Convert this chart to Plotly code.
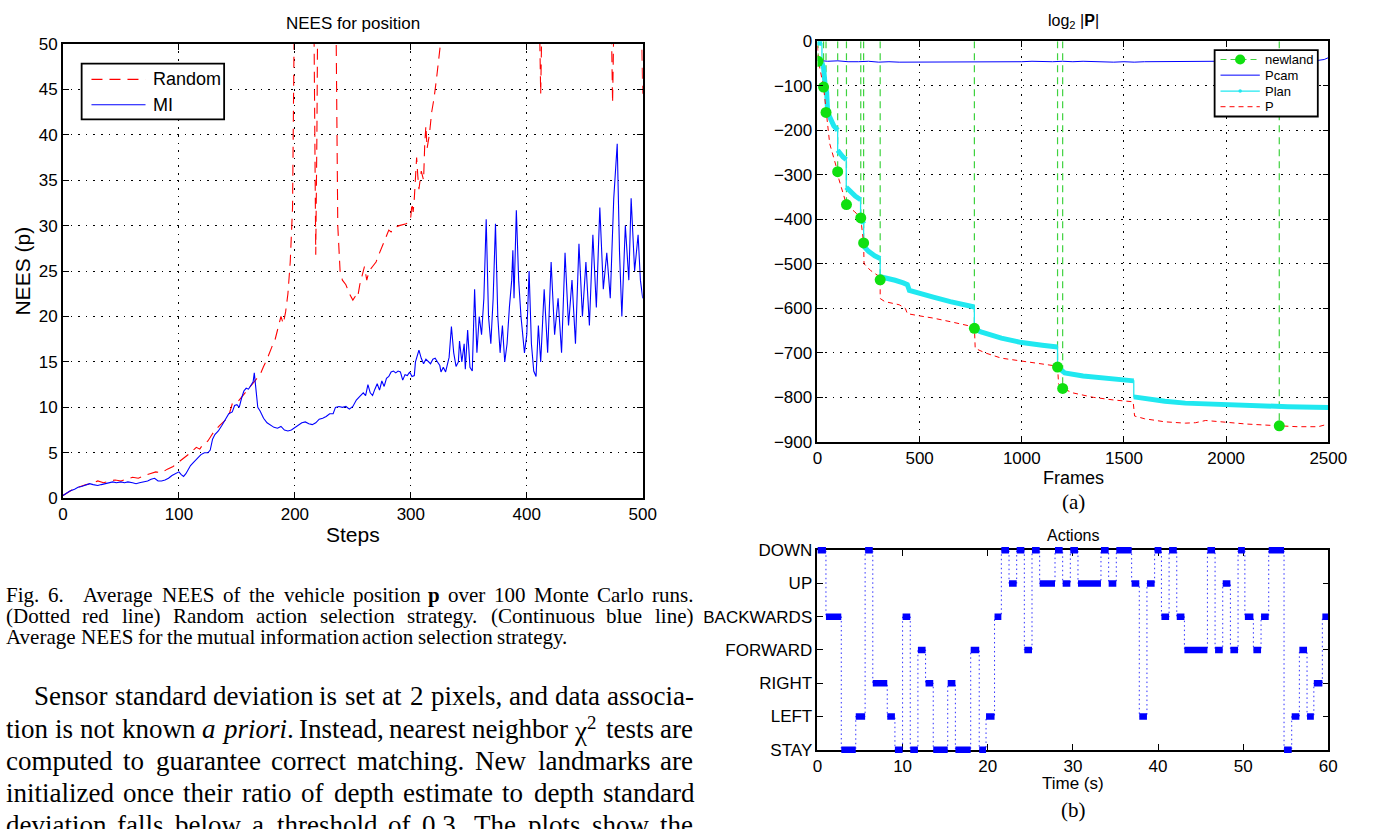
import re
import plotly.graph_objects as go

W, H = 1382, 829

# ---------------- Fig. 6 : NEES for position ----------------
steps_mi = [0, 3, 6, 10, 13, 16, 20, 23, 26, 30, 33, 36, 40, 43, 46, 50, 53, 56, 60, 63, 66, 70, 73, 76, 79, 82, 85, 88, 91, 94, 97,
            100, 102, 104, 106, 108, 110, 113, 116, 119, 122, 125, 127, 129, 131, 134, 137, 140, 143, 146, 148, 150, 152, 154,
            156, 158, 160, 162, 164, 165, 166, 167, 168, 170, 173, 176, 179, 182, 185, 188, 191, 194, 197, 200, 203, 206, 209,
            212, 215, 218, 221, 224, 227, 230, 233, 235, 238, 241, 244, 247, 250, 253, 256, 259, 261, 263, 265, 267, 269, 271,
            273, 275, 277, 279, 281, 283, 285, 287, 289, 291, 293, 295, 297, 299, 301, 303, 304, 306, 307, 309, 311, 313, 315,
            317, 319, 321, 323, 325, 326, 328, 330, 333, 335, 337, 339, 341, 342, 344, 346, 347, 349, 351, 353, 355, 357, 359,
            361, 363, 365, 367, 369, 371, 373, 375, 377, 379, 381, 383, 385, 387, 388, 389, 391, 393, 395, 398, 400, 402, 404,
            406, 408, 410, 412, 415, 418, 421, 424, 427, 430, 433, 436, 439, 442, 445, 448, 451, 454, 457, 460, 463, 466, 469,
            472, 475, 478, 480, 482, 485, 488, 490, 493, 496, 498, 500]
nees_mi = [0.3, 0.6, 0.8, 1.0, 1.2, 1.3, 1.5, 1.6, 1.5, 1.4, 1.5, 1.6, 1.7, 1.8, 1.7, 1.8, 1.7, 1.8, 1.7, 1.6, 1.7, 1.8, 1.9, 2.1,
           2.2, 1.9, 1.9, 2.0, 2.2, 2.5, 2.7, 2.9, 2.6, 2.4, 2.7, 3.2, 3.6, 4.0, 4.4, 4.8, 5.0, 5.0, 5.3, 6.5, 7.0, 7.4, 8.0,
           8.6, 9.3, 9.5, 10.2, 10.3, 10.0, 11.0, 11.8, 12.1, 12.0, 12.4, 12.8, 13.8, 12.6, 11.0, 10.0, 9.6, 8.8, 8.3, 8.0,
           7.8, 7.7, 7.9, 7.5, 7.4, 7.5, 7.8, 8.0, 8.3, 8.4, 8.2, 8.1, 8.3, 8.7, 8.8, 9.0, 9.3, 9.3, 10.0, 10.1, 10.0, 10.1,
           9.8, 10.1, 10.8, 11.2, 11.6, 11.3, 12.5, 11.6, 11.3, 12.0, 12.6, 11.9, 12.9, 12.3, 13.2, 13.4, 13.9, 14.0, 13.8,
           14.0, 13.9, 13.0, 13.6, 13.5, 13.9, 13.4, 13.5, 15.0, 15.8, 16.3, 15.4, 14.8, 15.3, 15.0, 14.8, 15.3, 15.4, 15.0,
           14.6, 13.9, 14.4, 13.9, 15.5, 18.9, 16.0, 14.5, 15.0, 17.3, 15.0, 17.0, 14.2, 18.5, 14.4, 14.0, 23.0, 16.0, 20.0,
           18.0, 22.0, 30.7, 20.0, 17.0, 22.0, 30.2, 20.0, 16.0, 19.0, 15.0, 17.0, 21.0, 24.0, 27.3, 22.0, 31.7, 24.0, 20.0,
           16.0, 18.0, 25.0, 17.0, 14.0, 13.4, 19.0, 15.0, 23.0, 16.0, 26.0, 18.0, 22.0, 16.0, 27.0, 19.0, 24.0, 17.0, 28.0,
           20.0, 26.0, 19.0, 29.0, 21.0, 32.0, 23.0, 27.0, 22.0, 33.0, 39.0, 27.0, 20.0, 30.0, 24.0, 33.0, 25.0, 29.0, 24.0,
           22.0]

steps_random = [0, 5, 10, 15, 20, 25, 30, 35, 40, 45, 50, 55, 60, 65, 70, 75, 80, 85, 90, 95, 100, 105, 110, 115, 118, 120,
                125, 128, 130, 135, 140, 143, 146, 150, 155, 160, 165, 170, 173, 176, 180, 183, 186, 188, 190, 192, 194, 196,
                198, 199, 200, 216, 217, 218, 219, 220, 235, 236, 237, 239, 241, 244, 247, 250, 252, 254, 256, 258, 260, 262,
                264, 267, 270, 273, 276, 279, 281, 283, 286, 290, 293, 296, 299, 300, 301, 302, 303, 304, 305, 306, 307, 309,
                311, 312, 313, 314, 316, 318, 320, 322, 324, 326, 328, 410, 412, 414, 472, 474, 476, 498, 500]
nees_random = [0.3, 0.7, 1.1, 1.3, 1.5, 1.6, 1.9, 1.7, 1.9, 2.0, 1.9, 2.1, 2.3, 2.2, 2.5, 2.7, 2.9, 2.8, 3.2, 3.5, 4.0, 4.4,
               5.0, 5.6, 5.4, 5.8, 6.3, 6.9, 7.3, 8.0, 8.6, 9.1, 10.4, 10.5, 11.3, 12.0, 12.8, 13.6, 14.5, 15.3, 16.6, 17.5,
               19.0, 20.0, 19.2, 20.5, 22.5, 26.0, 32.0, 45.0, 60, 60, 40, 26.8, 40, 60, 60, 45, 30, 25.0, 24.0, 23.5, 22.5,
               21.8, 22.2, 22.0, 23.5, 24.5, 25.5, 24.0, 25.0, 25.5, 26.0, 27.0, 28.0, 29.0, 29.5, 29.3, 29.8, 30.0, 30.1,
               30.2, 30.5, 31.0, 32.5, 31.5, 33.0, 36.0, 37.5, 35.5, 34.0, 36.0, 35.0, 39.0, 41.0, 38.5, 40.0, 42.5, 44.0,
               46.0, 48.0, 50.5, 60, 60, 44.5, 60, 60, 43.5, 60, 60, 44.5]
legend_left_names = ["Random", "MI"]

# ---------------- (a) log2 |P| ----------------
frames_pcam = [0, 20, 50, 100, 150, 200, 250, 300, 350, 400, 450, 500, 550, 600, 650, 700, 750, 800, 850, 900, 950, 1000,
               1050, 1100, 1150, 1200, 1250, 1300, 1350, 1400, 1450, 1500, 1550, 1600, 1650, 1700, 1750, 1800, 1850,
               1900, 1950, 2000, 2050, 2100, 2150, 2200, 2250, 2300, 2350, 2400, 2450, 2480, 2500]
logdet_pcam = [-43, -44, -45, -44, -46, -46, -45, -47, -46, -47, -47, -46, -47, -47, -46, -46, -47, -46, -46, -47, -46,
               -46, -45, -46, -46, -45, -46, -45, -46, -46, -47, -46, -47, -46, -46, -45, -46, -45, -46, -45, -45,
               -44, -45, -44, -44, -43, -42, -44, -43, -44, -43, -41, -37]

frames_plan = [0, 22, 22, 30, 38, 45, 50, 60, 80, 99, 99, 110, 125, 141, 141, 160, 185, 211, 211, 218, 226, 226, 250, 280,
               307, 307, 340, 380, 420, 440, 450, 500, 567, 650, 720, 768, 768, 800, 900, 1000, 1100, 1175, 1175, 1210,
               1300, 1400, 1548, 1548, 1600, 1700, 1800, 1900, 2000, 2140, 2300, 2500]
logdet_plan = [-3, -5, -48, -60, -100, -115, -160, -172, -190, -200, -245, -252, -260, -266, -328, -338, -348, -356, -395,
               -402, -410, -460, -472, -482, -488, -529, -532, -537, -543, -547, -560, -567, -575, -585, -592, -597, -647,
               -653, -667, -677, -683, -687, -732, -745, -752, -757, -763, -799, -803, -809, -813, -815, -817, -819, -821,
               -823]

frames_p = [0, 5, 30, 42, 50, 60, 99, 105, 142, 150, 180, 212, 215, 226, 228, 260, 307, 307, 330, 400, 430, 440, 500, 567,
            650, 768, 772, 820, 900, 1000, 1100, 1175, 1180, 1200, 1250, 1350, 1450, 1545, 1552, 1600, 1700, 1800, 1850,
            1900, 2000, 2100, 2260, 2350, 2450, 2500]
logdet_p = [-10, -45, -103, -160, -195, -230, -293, -310, -367, -372, -382, -397, -410, -453, -500, -515, -530, -578, -585,
            -592, -600, -612, -617, -622, -630, -642, -690, -700, -712, -718, -724, -730, -770, -780, -790, -800, -806,
            -810, -842, -848, -855, -858, -857, -852, -856, -860, -864, -866, -866, -860]

newland_frames = [3, 30, 42, 99, 142, 212, 226, 307, 768, 1175, 1200, 2260]
newland_logdet = [-45, -103, -160, -293, -367, -397, -453, -536, -645, -732, -780, -864]
legend_right_names = ["newland", "Pcam", "Plan", "P"]

# ---------------- (b) Actions ----------------
action_levels = ["STAY", "LEFT", "RIGHT", "FORWARD", "BACKWARDS", "UP", "DOWN"]
action_start = [0, 1.0, 2.8, 4.5, 5.6, 6.5, 8.2, 9.1, 10.0, 10.9, 11.8, 12.7, 13.6, 15.3, 16.2, 18.0, 19.0, 19.8, 20.8,
                21.6, 22.5, 23.4, 24.3, 25.2, 26.1, 27.9, 28.8, 29.7, 30.6, 33.3, 34.2, 35.1, 36.9, 37.8, 38.7, 39.6,
                40.4, 41.3, 42.2, 43.1, 45.8, 46.7, 47.6, 48.5, 49.4, 50.2, 51.2, 52.1, 53.0, 54.8, 55.7, 56.6, 57.5,
                58.3, 59.3]
action_seq = ["DOWN", "BACKWARDS", "STAY", "LEFT", "DOWN", "RIGHT", "LEFT", "STAY", "BACKWARDS", "STAY", "FORWARD",
              "RIGHT", "STAY", "RIGHT", "STAY", "FORWARD", "STAY", "LEFT", "BACKWARDS", "DOWN", "UP", "DOWN", "FORWARD",
              "DOWN", "UP", "DOWN", "UP", "DOWN", "UP", "DOWN", "UP", "DOWN", "UP", "LEFT", "UP", "DOWN", "BACKWARDS",
              "DOWN", "BACKWARDS", "FORWARD", "DOWN", "FORWARD", "UP", "FORWARD", "DOWN", "BACKWARDS", "FORWARD",
              "BACKWARDS", "DOWN", "STAY", "LEFT", "FORWARD", "LEFT", "RIGHT", "BACKWARDS"]
action_end_time = 60

# ---------------- page text ----------------
caption_lines = [
    "Fig. 6.\u2002 Average NEES of the vehicle position <b>p</b> over 100 Monte Carlo runs.",
    "(Dotted red line) Random action selection strategy. (Continuous blue line)",
    "Average NEES for the mutual information action selection strategy.",
]
body_lines = [
    "Sensor standard deviation is set at 2 pixels, and data associa-",
    "tion is not known <i>a</i> <i>priori</i>. Instead, nearest neighbor \u03c7<sup>2</sup> tests are",
    "computed to guarantee correct matching. New landmarks are",
    "initialized once their ratio of depth estimate to depth standard",
    "deviation falls below a threshold of 0.3. The plots show the",
]

# =================================================================
SANS = "Liberation Sans"
SERIF = "Liberation Serif"
RED, BLUE, CYAN, GREEN_L, GREEN_M = "#ff0000", "#0000ff", "#20e8f0", "#3fd23f", "#10e010"


def px_x(p):
    return p / W


def px_y(p):
    return 1 - p / H


fig = go.Figure()

# left plot
fig.add_trace(go.Scatter(x=steps_random, y=nees_random, mode="lines", name=legend_left_names[0], showlegend=False,
                         line=dict(color=RED, width=1.1, dash="11px,7px"), xaxis="x", yaxis="y"))
fig.add_trace(go.Scatter(x=steps_mi, y=nees_mi, mode="lines", name=legend_left_names[1], showlegend=False,
                         line=dict(color=BLUE, width=1.1), xaxis="x", yaxis="y"))

# right top plot
nl_x, nl_y = [], []
for f, v in zip(newland_frames, newland_logdet):
    nl_x += [f, f, None]
    nl_y += [0, v, None]
fig.add_trace(go.Scatter(x=nl_x, y=nl_y, mode="lines", name=legend_right_names[0], showlegend=False,
                         line=dict(color=GREEN_L, width=1.2, dash="7px,5px"), xaxis="x2", yaxis="y2"))
fig.add_trace(go.Scatter(x=frames_pcam, y=logdet_pcam, mode="lines", name=legend_right_names[1], showlegend=False,
                         line=dict(color=BLUE, width=1), xaxis="x2", yaxis="y2"))
fig.add_trace(go.Scatter(x=frames_plan, y=logdet_plan, mode="lines", name=legend_right_names[2], showlegend=False,
                         line=dict(color=CYAN, width=1.3), xaxis="x2", yaxis="y2"))
thick_x, thick_y = [], []
for i, (f, v) in enumerate(zip(frames_plan, logdet_plan)):
    if i > 0 and f == frames_plan[i - 1]:
        thick_x.append(None)
        thick_y.append(None)
    thick_x.append(f)
    thick_y.append(v)
fig.add_trace(go.Scatter(x=thick_x, y=thick_y, mode="lines", showlegend=False,
                         line=dict(color=CYAN, width=5), xaxis="x2", yaxis="y2", hoverinfo="skip"))
fig.add_trace(go.Scatter(x=frames_p, y=logdet_p, mode="lines", name=legend_right_names[3], showlegend=False,
                         line=dict(color=RED, width=1, dash="5px,4px"), xaxis="x2", yaxis="y2"))
fig.add_trace(go.Scatter(x=newland_frames, y=newland_logdet, mode="markers", showlegend=False,
                         marker=dict(color=GREEN_M, size=11, line=dict(width=0)),
                         xaxis="x2", yaxis="y2", hoverinfo="skip"))

# actions plot
lvl = {n: i for i, n in enumerate(action_levels)}
stair_x = list(action_start) + [action_end_time]
stair_y = [lvl[a] for a in action_seq] + [lvl[action_seq[-1]]]
fig.add_trace(go.Scatter(x=stair_x, y=stair_y, mode="lines", line_shape="hv", showlegend=False,
                         line=dict(color="#3030ff", width=1, dash="1.5px,3px"), xaxis="x3", yaxis="y3"))
seg_x, seg_y = [], []
for i, a in enumerate(action_seq):
    t1 = action_start[i + 1] if i + 1 < len(action_start) else action_end_time
    seg_x += [action_start[i], t1, None]
    seg_y += [lvl[a], lvl[a], None]
fig.add_trace(go.Scatter(x=seg_x, y=seg_y, mode="lines", showlegend=False,
                         line=dict(color=BLUE, width=6.5), xaxis="x4", yaxis="y4"))

# ---------------- axes ----------------
base = dict(showline=True, linecolor="black", linewidth=1.6, mirror="ticks", ticks="inside", ticklen=6,
            tickwidth=1.2, tickcolor="black", zeroline=False,
            tickfont=dict(family=SANS, size=17, color="black"))
grid = dict(showgrid=True, gridcolor="black", gridwidth=1, griddash="1.6px,6px")

L = (59, 649, 35.7, 500.7)
R1 = (826.8, 1346.7, 33, 443)
R2 = (826.8, 1346.7, 554, 758)

fig.update_layout(
    xaxis=dict(domain=[px_x(L[0]), px_x(L[1])], range=[0, 500], dtick=100, anchor="y", **base, **grid),
    yaxis=dict(domain=[px_y(L[3]), px_y(L[2])], range=[0, 50], dtick=5, anchor="x", **base, **grid),
    xaxis2=dict(domain=[px_x(R1[0]), px_x(R1[1])], range=[0, 2500], dtick=500, anchor="y2", **base, **grid),
    yaxis2=dict(domain=[px_y(R1[3]), px_y(R1[2])], range=[-900, 0], dtick=100, anchor="x2", **base, **grid),
    xaxis3=dict(domain=[px_x(R2[0]), px_x(R2[1])], range=[0, 60], dtick=10, anchor="y3", showgrid=False, **base),
    yaxis3=dict(domain=[px_y(R2[3]), px_y(R2[2])], range=[0, 6], tickvals=list(range(7)), ticktext=action_levels,
                anchor="x3", showgrid=False, **base),
)
pad = 5
unit = (R2[3] - R2[2]) / 6.0
fig.update_layout(
    xaxis4=dict(domain=[px_x(R2[0]), px_x(R2[1])], range=[0, 60], anchor="y4", visible=False),
    yaxis4=dict(domain=[px_y(R2[3] + pad), px_y(R2[2] - pad)], range=[-pad / unit, 6 + pad / unit],
                anchor="x4", visible=False),
)

ann = []
shapes = []


def label(text, x, y, size, family=SANS, angle=0, xanchor="center"):
    ann.append(dict(text=text, x=px_x(x), y=px_y(y), xref="paper", yref="paper", showarrow=False,
                    xanchor=xanchor, yanchor="middle", textangle=angle,
                    font=dict(family=family, size=size, color="black")))


def hline(x0, x1, y, color, width, dash="solid"):
    shapes.append(dict(type="line", xref="paper", yref="paper", x0=px_x(x0), x1=px_x(x1), y0=px_y(y), y1=px_y(y),
                       line=dict(color=color, width=width, dash=dash), layer="above"))


def dot(x, y, r, color):
    shapes.append(dict(type="circle", xref="paper", yref="paper", x0=px_x(x - r), x1=px_x(x + r),
                       y0=px_y(y + r), y1=px_y(y - r), fillcolor=color, line=dict(width=0), layer="above"))


def box(x0, x1, y0, y1):
    shapes.append(dict(type="rect", xref="paper", yref="paper", x0=px_x(x0), x1=px_x(x1), y0=px_y(y1), y1=px_y(y0),
                       line=dict(color="black", width=1.8), fillcolor="white", layer="above"))


label("NEES for position", 354, 15, 17)
label("Steps", 354, 538, 21)
label("NEES (p)", 18, 268, 21, angle=-90)
label("log<sub>2</sub> |<b>P</b>|", 1087, 13, 16)
label("Frames", 1087, 480, 18)
label("(a)", 1087, 505, 21, family=SERIF)
label("Actions", 1087, 539, 16)
label("Time (s)", 1087, 793, 17)
label("(b)", 1087, 820, 21, family=SERIF)

# left legend (MATLAB style)
box(78, 223, 56, 113)
hline(88, 143, 72, RED, 1.1, "11px,7px")
hline(88, 143, 98, BLUE, 1.1)
label(legend_left_names[0], 149, 72, 18, xanchor="left")
label(legend_left_names[1], 149, 98, 18, xanchor="left")

# right legend (MATLAB style)
box(1231, 1336, 42, 110)
ly = [51.7, 67.7, 84.0, 100.0]
hline(1237, 1277, ly[0], GREEN_L, 1.2, "6px,4px")
dot(1257, ly[0], 5.2, GREEN_M)
hline(1237, 1277, ly[1], BLUE, 1)
hline(1237, 1277, ly[2], CYAN, 1.3)
dot(1257, ly[2], 1.8, CYAN)
hline(1237, 1277, ly[3], RED, 1, "5px,4px")
for name, y in zip(legend_right_names, ly):
    label(name, 1280, y, 13, xanchor="left")

TW = {" ": 250, ".": 250, ",": 250, "-": 333, "(": 333, ")": 333, "\u2002": 500, "\u03c7": 549}
TW.update({d: 500 for d in "0123456789"})
TW.update(dict(zip("ABCDEFGHIJKLMNOPQRSTUVWXYZ",
                   [722, 667, 667, 722, 611, 556, 722, 722, 333, 389, 722, 611, 889, 722, 722, 556, 722, 667, 556,
                    611, 722, 722, 944, 722, 722, 611])))
TW.update(dict(zip("abcdefghijklmnopqrstuvwxyz",
                   [444, 500, 444, 500, 444, 333, 500, 500, 278, 278, 500, 278, 778, 500, 500, 500, 500, 333, 389,
                    278, 500, 500, 722, 500, 500, 444])))
TW_ITALIC = {"a": 500, "r": 389, "i": 278, "o": 500, "p": 500}


def text_w(html, size):
    tot, sup, ital = 0.0, False, False
    for part in re.split(r"(<[^>]+>)", html):
        if part.startswith("<"):
            if part == "<sup>":
                sup = True
            elif part == "</sup>":
                sup = False
            elif part == "<i>":
                ital = True
            elif part == "</i>":
                ital = False
            continue
        for ch in part:
            w = TW_ITALIC.get(ch, TW.get(ch, 500)) if ital else TW.get(ch, 500)
            tot += w * (0.7 if sup else 1.0)
    return tot / 1000.0 * size


def text_line(line, x0, x1, y, size, justify=True):
    words = line.split(" ")
    ws = [text_w(w, size) for w in words]
    gap = (x1 - x0 - sum(ws)) / (len(words) - 1) if justify else 0.25 * size
    x = x0
    for w, wd in zip(words, ws):
        ann.append(dict(text=w, x=px_x(x), y=px_y(y), xref="paper", yref="paper", showarrow=False,
                        xanchor="left", yanchor="middle", borderpad=0, borderwidth=0,
                        font=dict(family=SERIF, size=size, color="black")))
        x += wd + gap


TEXT_R = 700
cap_y = [600, 621.5, 643]
for i, (ln, y) in enumerate(zip(caption_lines, cap_y)):
    text_line(ln, 1, TEXT_R, y, 21, justify=(i < len(caption_lines) - 1))
body_y = [703, 736.5, 769.5, 802.5, 835.5]
for i, (ln, y) in enumerate(zip(body_lines, body_y)):
    text_line(ln, 30 if i == 0 else 1, TEXT_R, y, 27, justify=True)

fig.update_layout(annotations=ann, shapes=shapes, width=W, height=H, autosize=False,
                  margin=dict(l=0, r=0, t=0, b=0), paper_bgcolor="white", plot_bgcolor="rgba(0,0,0,0)",
                  showlegend=False)

fig.write_html("out.html",
               post_script="document.body.style.margin='0px';document.body.style.overflow='hidden';")
